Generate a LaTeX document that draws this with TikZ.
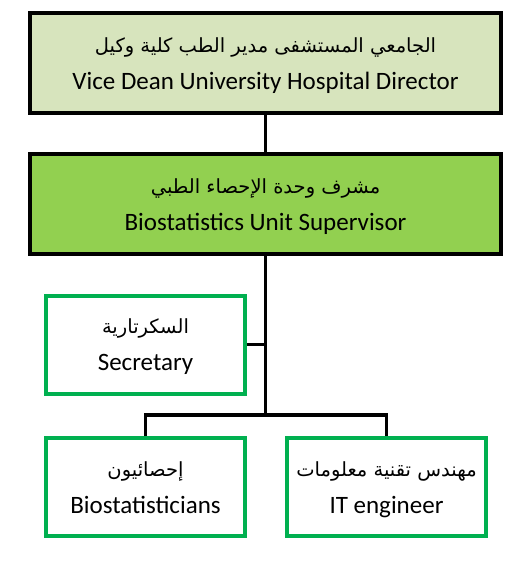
\documentclass[tikz,border=0pt]{standalone}
\usepackage{fontspec}
\setmainfont{Carlito}
\newfontfamily\arabicfont[Script=Arabic]{DejaVu Sans}
\TeXXeTstate=1
\definecolor{deanfill}{HTML}{D7E4BD}
\definecolor{unitfill}{HTML}{92D050}
\definecolor{staffgreen}{HTML}{00B050}
% arabic line above, english line below
\newcommand{\arline}[1]{{\arabicfont\fontsize{19.5}{37}\selectfont\rule{0pt}{23pt}\beginR #1\endR}}
\newcommand{\twolines}[2]{\arline{#1}\\#2\rule[-8pt]{0pt}{0pt}}

\begin{document}
\begin{tikzpicture}[x=1pt,y=-1pt,
  every node/.style={font=\fontsize{25}{37}\selectfont,align=center,inner sep=0pt},
  headbox/.style={draw=black,line width=4pt,minimum width=471pt,minimum height=100pt},
  staffbox/.style={draw=staffgreen,fill=white,line width=4pt,minimum width=199pt,minimum height=98pt},
  link/.style={line width=3.5pt}]
  \useasboundingbox (0,0) rectangle (530,579);
  % top of the chart
  \node[headbox,fill=deanfill] (dean) at (265.5,63.25)
    {\twolines{الجامعي المستشفى مدير الطب كلية وكيل}{Vice Dean University Hospital Director}};
  \node[headbox,fill=unitfill] (unit) at (265.5,204)
    {\twolines{مشرف وحدة الإحصاء الطبي}{Biostatistics Unit Supervisor}};
  % staff
  \node[staffbox] (secretary) at (145.5,344.5) {\twolines{السكرتارية}{Secretary}};
  \node[staffbox] (biostat) at (145.5,487) {\twolines{إحصائيون}{Biostatisticians}};
  \node[staffbox] (itengin) at (386.5,487) {\twolines{مهندس تقنية معلومات}{IT engineer}};
  \coordinate (split) at (265.5,415);
  % connectors
  \draw[link] (dean) -- (unit);
  \draw[link] (unit) -- (split);
  \draw[link] (secretary.east) -- (secretary.east -| split);
  \draw[link] (biostat.north) |- (split) -| (itengin.north);
\end{tikzpicture}
\end{document}
